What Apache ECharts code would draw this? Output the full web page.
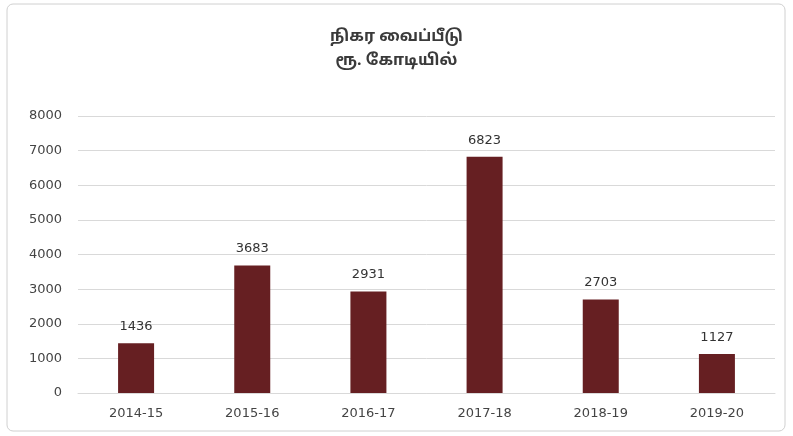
<!DOCTYPE html>
<html>
<head>
<meta charset="utf-8">
<script src="https://cdn.jsdelivr.net/npm/echarts@6/dist/echarts.min.js"></script>
<style>
  html, body { margin: 0; padding: 0; background: #fff; }
  #main { width: 793px; height: 436px; }
</style>
</head>
<body>
<div id="main"></div>
<script>
var years = ['2014-15', '2015-16', '2016-17', '2017-18', '2018-19', '2019-20'];
var deposits = [1436, 3683, 2931, 6823, 2703, 1127];
var titleLines = ['நிகர வைப்பீடு', 'ரூ. கோடியில்'];

var chart = echarts.init(document.getElementById('main'));
chart.setOption({
    backgroundColor: '#fff',
    title: {
        text: titleLines.join('\n'),
        left: 'center',
        top: 21,
        textStyle: {
            fontSize: 16,
            fontWeight: 'bold',
            color: '#3a3a3a',
            lineHeight: 24,
            fontFamily: '"Noto Sans Tamil", "Noto Sans", sans-serif'
        }
    },
    graphic: [{
        type: 'rect',
        shape: { x: 7, y: 4, width: 778, height: 427, r: 6 },
        style: { fill: null, stroke: '#d0d0d0', lineWidth: 1 },
        silent: true
    }],
    grid: { left: 78, right: 18, top: 116, bottom: 43 },
    xAxis: {
        type: 'category',
        data: years,
        axisTick: { show: false },
        axisLine: { lineStyle: { color: '#d9d9d9' } },
        axisLabel: { color: '#444', fontSize: 13, margin: 14, fontFamily: 'DejaVu Sans' }
    },
    yAxis: {
        type: 'value',
        min: 0,
        max: 8000,
        interval: 1000,
        axisLine: { show: false },
        axisTick: { show: false },
        splitLine: { lineStyle: { color: '#d9d9d9' } },
        axisLabel: {
            color: '#444', fontSize: 13, margin: 16, fontFamily: 'DejaVu Sans',
            formatter: function (v) { return String(v); }
        }
    },
    series: [{
        type: 'bar',
        data: deposits,
        barWidth: 36,
        itemStyle: { color: '#661f22' },
        label: {
            show: true,
            position: 'top',
            distance: 10,
            color: '#333',
            fontSize: 13,
            fontFamily: 'DejaVu Sans'
        }
    }]
});
</script>
</body>
</html>
